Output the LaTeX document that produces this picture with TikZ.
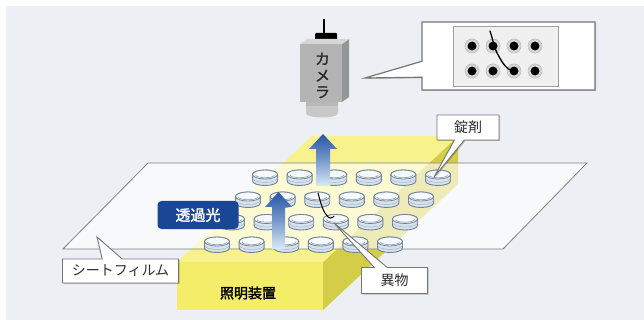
\documentclass[tikz,border=0pt]{standalone}
\usepackage{fontspec}
\setmainfont{Noto Sans CJK JP}
\newfontfamily\jpbold{Noto Sans CJK JP}[FakeBold=2]
\newfontfamily\jpmid{Noto Sans CJK JP}[FakeBold=1]
\usetikzlibrary{shapes.callouts,shadows}

\definecolor{panel}{RGB}{236,240,245}
\definecolor{slabtop}{RGB}{247,242,140}
\definecolor{slabfront}{RGB}{243,237,105}
\definecolor{slabside}{RGB}{212,205,72}
\definecolor{filmedge}{RGB}{128,128,128}
\definecolor{tabedge}{RGB}{112,130,150}
\definecolor{tabfill}{RGB}{214,227,238}
\definecolor{tabtop}{RGB}{247,250,252}
\definecolor{beamdark}{RGB}{38,86,168}
\definecolor{beamlight}{RGB}{218,234,247}
\definecolor{tagblue}{RGB}{26,70,150}
\definecolor{labeledge}{RGB}{118,118,118}
\definecolor{labeltext}{RGB}{45,45,45}
\definecolor{camfront}{RGB}{180,180,180}
\definecolor{camside}{RGB}{150,150,150}
\definecolor{camtop}{RGB}{214,214,214}
\definecolor{lensgray}{RGB}{200,200,200}

\tikzset{
  tabletpic/.pic={
    \path[fill=tabfill,draw=tabedge,line width=0.9pt]
      (-12.5,0) -- (-12.5,6.5) arc[start angle=180,end angle=0,x radius=12.5,y radius=4.5]
      -- (12.5,0) arc[start angle=0,end angle=-180,x radius=12.5,y radius=4.5] -- cycle;
    \draw[tabedge!60,line width=0.5pt] (-12.5,3.5) arc[start angle=180,end angle=0,x radius=12.5,y radius=4.5];
    \path[fill=tabtop,draw=tabedge,line width=0.8pt] (0,0) ellipse[x radius=12.5,y radius=4.5];
    \draw[tabedge!80,line width=0.6pt] (-9.5,0.6) arc[start angle=180,end angle=0,x radius=9.5,y radius=2.6];
  },
  labelbox/.style={rectangle callout,draw=labeledge,fill=white,line width=0.9pt,
    text=labeltext,inner sep=0pt,font=\fontsize{14}{14}\selectfont,
    drop shadow={shadow xshift=1pt,shadow yshift=-1pt,fill=black,opacity=0.22}},
  beam/.style={top color=beamdark,bottom color=beamlight,middle color=beamdark!55!beamlight}
}

\begin{document}
\begin{tikzpicture}[x=1pt,y=-1pt]
\useasboundingbox[fill=white] (0,0) rectangle (644,320);
\fill[panel] (6,6) rectangle (644,320);

% lighting unit: a slanted yellow slab
\fill[slabside] (458,136) -- (323,262) -- (323,310) -- (458,184) -- cycle;
\fill[slabtop] (312,136) -- (458,136) -- (323,262) -- (177,262) -- cycle;
\fill[slabfront] (177,262) rectangle (323,310);
\node[font=\jpbold\fontsize{14}{14}\selectfont,text=black] (light) at (248,293) {照明装置};

% translucent sheet film
\path[fill=white,fill opacity=0.62,draw=filmedge,line width=0.8pt]
  (148,163) -- (587,163) -- (503,249) -- (63,249) -- cycle;

% tablets, back row first
\foreach \r/\x/\y in {0/265/174.5,1/248/196.5,2/232/219,3/217/241.5}
  \foreach \c in {0,...,5}
    \pic (t-\r-\c) at ({\x+34.6*\c},\y) {tabletpic};

% foreign matter lying across the tablets
\draw[black,line width=1pt,line cap=round]
  (318,193) .. controls (321,204) and (323,212) .. (328,217)
  .. controls (330,218.5) .. (334,216.5);

% transmitted light arrows
\shade[beam] (323,134) -- (337,149) -- (330,149) -- (330,186) -- (316,186) -- (316,149) -- (309,149) -- cycle;
\shade[beam] (278.5,192) -- (292,207) -- (285,207) -- (285,249) -- (272,249) -- (272,207) -- (265,207) -- cycle;

\node[fill=tagblue,rounded corners=4pt,text=white,inner sep=0pt,
  minimum width=81,minimum height=28,font=\jpbold\fontsize{15}{15}\selectfont] (transmit) at (198,215) {透過光};

% pointer tips
\coordinate (tipTab) at (434,177);
\coordinate (tipObj) at (334,223);
\coordinate (tipFilm) at (97,237);
\coordinate (tipCam) at (365,78);

\node[labelbox,callout absolute pointer={(tipTab)},callout pointer width=10,
  minimum width=62,minimum height=25] (lblTab) at (468,127.5) {錠剤};
\node[labelbox,callout absolute pointer={(tipObj)},callout pointer width=13,
  minimum width=66,minimum height=26] (lblObj) at (394.5,280.5) {異物};
\node[labelbox,callout absolute pointer={(tipFilm)},callout pointer width=20,
  minimum width=116,minimum height=24] (lblFilm) at (120.5,271) {シートフィルム};

% camera
\draw[black,line width=1.3pt] (324,19) -- (324,34);
\fill[black,rounded corners=1pt] (315,33) rectangle (337,43.5);
\path[fill=lensgray] (306,100) -- (306,113) .. controls (306,119) and (338,119) .. (338,113) -- (338,100) -- cycle;
\fill[camfront!80!lensgray] (306,101) rectangle (338,106);
\fill[camside] (342,44) -- (349,39) -- (349,97) -- (342,102) -- cycle;
\fill[camtop] (300,44) -- (307,39) -- (349,39) -- (342,44) -- cycle;
\node[fill=camfront,inner sep=0pt,minimum width=42,minimum height=58,anchor=north west] (cam) at (300,44) {};
\node[align=center,text=black!85,inner sep=0pt,font=\jpmid\fontsize{15}{16.5}\selectfont] (camlabel) at (322.5,75.5) {カ\\メ\\ラ};

% camera view
\node[rectangle callout,draw=labeledge,fill=white,line width=1.2pt,
  minimum width=173,minimum height=68,inner sep=0pt,
  callout absolute pointer={(tipCam)},callout pointer width=16,
  drop shadow={shadow xshift=1pt,shadow yshift=-1pt,fill=black,opacity=0.2}] (camview) at (508.5,56) {};
\node[draw=gray!75,fill=gray!12,line width=1pt,minimum width=105,minimum height=60,inner sep=0pt] (screen) at (505.5,57) {};
\foreach \i/\x in {1/472,2/493,3/514,4/535}
  \foreach \j/\y in {1/46,2/71} {
    \node[circle,fill=gray!30,draw=gray!55,line width=0.6pt,minimum size=14,inner sep=0pt] (ring\i\j) at (\x,\y) {};
    \node[circle,fill=black,minimum size=9,inner sep=0pt] (dot\i\j) at (ring\i\j.center) {};
  }
\draw[black,line width=1.3pt,line cap=round]
  (490,31) .. controls (493,40) and (494,47) .. (497,53)
  .. controls (502,62) and (506,70) .. (514,71);
\end{tikzpicture}
\end{document}
